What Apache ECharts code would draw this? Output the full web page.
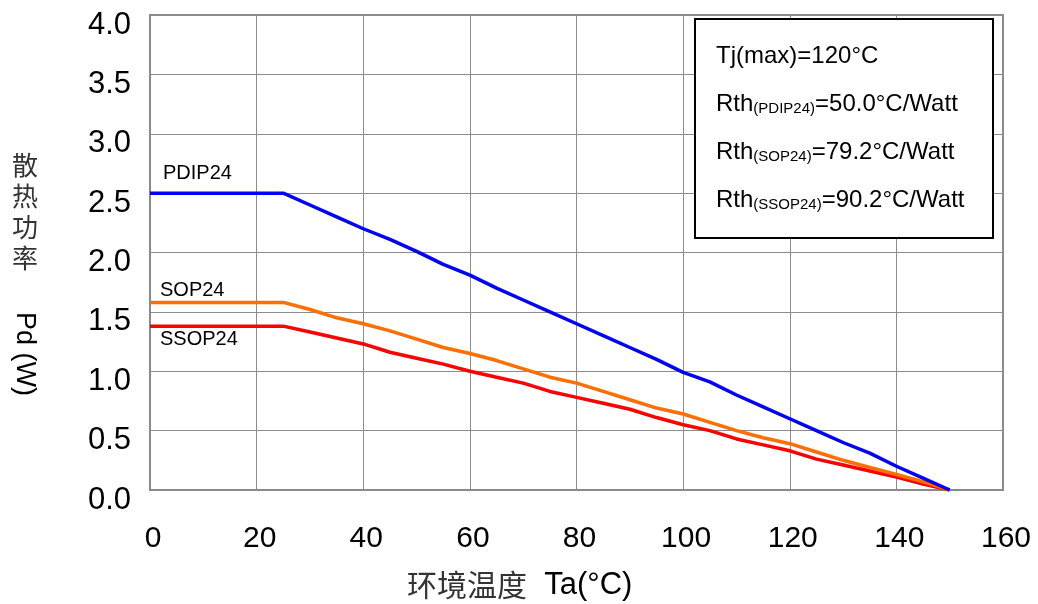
<!DOCTYPE html>
<html>
<head>
<meta charset="utf-8">
<script src="https://cdn.jsdelivr.net/npm/echarts@6/dist/echarts.min.js"></script>
<style>
  html, body { margin: 0; padding: 0; background: #fff; }
  #chart { width: 1038px; height: 604px; }
</style>
</head>
<body>
<div id="chart"></div>
<script>
// ambient temperature Ta (°C)
const ta = [0, 25, 30, 35, 40, 45, 50, 55, 60, 65, 70, 75, 80, 85, 90, 95, 100, 105, 110, 115, 120, 125, 130, 135, 140, 145, 150];
// power dissipation Pd (W)
const pdip24 = [2.5, 2.5, 2.40, 2.30, 2.20, 2.11, 2.01, 1.90, 1.81, 1.70, 1.60, 1.50, 1.40, 1.30, 1.20, 1.10, 0.99, 0.91, 0.80, 0.70, 0.60, 0.50, 0.40, 0.31, 0.20, 0.10, 0];
const sop24 = [1.58, 1.58, 1.52, 1.45, 1.40, 1.34, 1.27, 1.20, 1.15, 1.09, 1.02, 0.95, 0.90, 0.83, 0.76, 0.69, 0.64, 0.57, 0.50, 0.44, 0.39, 0.32, 0.25, 0.19, 0.13, 0.07, 0];
const ssop24 = [1.38, 1.38, 1.33, 1.28, 1.23, 1.16, 1.11, 1.06, 1.00, 0.95, 0.90, 0.83, 0.78, 0.73, 0.68, 0.61, 0.55, 0.50, 0.43, 0.38, 0.33, 0.26, 0.21, 0.16, 0.11, 0.05, 0];

const seriesNames = ["SSOP24", "SOP24", "PDIP24"];
const infoLines = [
  "Tj(max)=120°C",
  ["(PDIP24)", "=50.0°C/Watt"],
  ["(SOP24)", "=79.2°C/Watt"],
  ["(SSOP24)", "=90.2°C/Watt"],
];

const sans = "'Liberation Sans', Arial, sans-serif";
const cjk = "'Noto Sans CJK SC', sans-serif";

const chart = echarts.init(document.getElementById("chart"));

function makeSeries(name, values, color, labelPos) {
  return {
    name: name,
    type: "line",
    data: ta.map((t, i) => [t, values[i]]),
    showSymbol: false,
    lineStyle: { color: color, width: 3.5 },
    itemStyle: { color: color },
    markPoint: {
      symbol: "circle",
      symbolSize: 0,
      silent: true,
      data: [{ coord: [ta[0], values[0]] }],
      label: {
        show: true,
        formatter: name,
        position: labelPos,
        align: "left",
        verticalAlign: "middle",
        color: "#000",
        fontFamily: sans,
        fontSize: 20,
      },
    },
  };
}

const infoText = infoLines
  .map((l) => (typeof l === "string" ? "{m|" + l + "}" : "{m|Rth}{s|" + l[0] + "}{m|" + l[1] + "}"))
  .join("\n");

const option = {
  animation: false,
  backgroundColor: "#fff",
  grid: {
    left: 150,
    right: 35,
    top: 15,
    bottom: 114,
    show: true,
    borderColor: "#8a8a8a",
    borderWidth: 2,
  },
  xAxis: {
    type: "value",
    min: 0,
    max: 160,
    interval: 20,
    axisLine: { show: true, lineStyle: { color: "#8a8a8a", width: 2 } },
    axisTick: { show: false },
    splitLine: { show: true, lineStyle: { color: "#8c8c8c", width: 1 } },
    axisLabel: {
      color: "#000",
      fontFamily: sans,
      fontSize: 30,
      margin: 34,
      padding: [0, 0, 0, 6],
    },
  },
  yAxis: {
    type: "value",
    min: 0,
    max: 4,
    interval: 0.5,
    axisLine: { show: true, lineStyle: { color: "#8a8a8a", width: 2 } },
    axisTick: { show: false },
    splitLine: { show: true, lineStyle: { color: "#8c8c8c", width: 1 } },
    axisLabel: {
      color: "#000",
      fontFamily: sans,
      fontSize: 31,
      margin: 19,
      verticalAlign: "top",
      lineHeight: 20,
      formatter: (v) => v.toFixed(1),
    },
  },
  series: [
    makeSeries(seriesNames[0], ssop24, "#ff0000", [10, 13]),
    makeSeries(seriesNames[1], sop24, "#ff6e00", [10, -12]),
    makeSeries(seriesNames[2], pdip24, "#0000ff", [13, -20]),
  ],
  graphic: [
    {
      type: "text",
      left: 12,
      top: 150,
      style: {
        text: "散\n热\n功\n率",
        font: "26px " + cjk,
        lineHeight: 31,
        fill: "#333",
        align: "left",
      },
    },
    {
      type: "text",
      x: 24,
      y: 354,
      rotation: -Math.PI / 2,
      style: {
        text: "Pd (W)",
        font: "27px " + sans,
        fill: "#000",
        align: "center",
        verticalAlign: "middle",
      },
    },
    {
      type: "text",
      x: 407,
      y: 585,
      style: {
        text: "{c|环境温度}{t|  Ta(°C)}",
        rich: {
          c: { font: "30px " + cjk, fill: "#333" },
          t: { font: "31px " + sans, fill: "#000" },
        },
        verticalAlign: "middle",
        align: "left",
      },
    },
    {
      type: "rect",
      shape: { x: 695, y: 19, width: 298, height: 219 },
      style: { fill: "#fff", stroke: "#000", lineWidth: 2 },
      z: 10,
    },
    {
      type: "text",
      x: 716,
      y: 20,
      z: 11,
      style: {
        text: infoText,
        verticalAlign: "top",
        align: "left",
        rich: {
          m: { font: "24px " + sans, fill: "#000", lineHeight: 48, verticalAlign: "bottom" },
          s: { font: "15px " + sans, fill: "#000", lineHeight: 48, verticalAlign: "bottom" },
        },
      },
    },
  ],
};

chart.setOption(option);
</script>
</body>
</html>
